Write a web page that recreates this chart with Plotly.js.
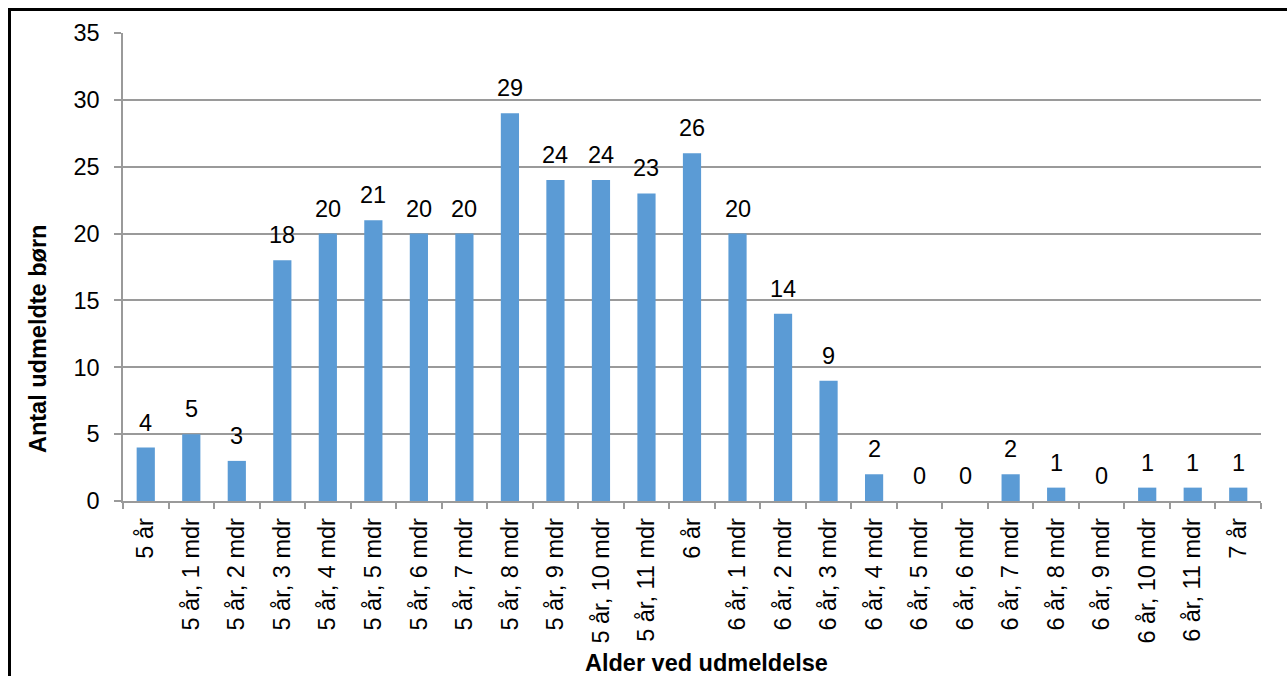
<!DOCTYPE html>
<html>
<head>
<meta charset="utf-8">
<script src="https://cdn.plot.ly/plotly-3.0.1.min.js"></script>
<style>
  html, body { margin: 0; padding: 0; overflow: hidden; background: #fff; }
  #wrap { position: relative; width: 1287px; height: 676px; }
  #chart { position: absolute; left: 0; top: 0; width: 1287px; height: 676px; }
  #frame { position: absolute; left: 8px; top: 8px; width: 1400px; height: 800px;
           border-left: 3px solid #000; border-top: 3px solid #000; pointer-events: none; }
</style>
</head>
<body>
<div id="wrap"><div id="chart"></div><div id="frame"></div></div>
<script>
const categories = [
  "5 år", "5 år, 1 mdr", "5 år, 2 mdr", "5 år, 3 mdr", "5 år, 4 mdr", "5 år, 5 mdr",
  "5 år, 6 mdr", "5 år, 7 mdr", "5 år, 8 mdr", "5 år, 9 mdr", "5 år, 10 mdr", "5 år, 11 mdr",
  "6 år", "6 år, 1 mdr", "6 år, 2 mdr", "6 år, 3 mdr", "6 år, 4 mdr", "6 år, 5 mdr",
  "6 år, 6 mdr", "6 år, 7 mdr", "6 år, 8 mdr", "6 år, 9 mdr", "6 år, 10 mdr", "6 år, 11 mdr",
  "7 år"
];
const values = [4, 5, 3, 18, 20, 21, 20, 20, 29, 24, 24, 23, 26, 20, 14, 9, 2, 0, 0, 2, 1, 0, 1, 1, 1];
const yTickValues = [0, 5, 10, 15, 20, 25, 30, 35];
const xTitle = "Alder ved udmeldelse";
const yTitle = "Antal udmeldte børn";

const FONT = "Liberation Sans, Arial, sans-serif";
const GRID = "#9a9a9a";
const FS = 23.5;

const trace = {
  type: "bar",
  x: categories,
  y: values,
  marker: { color: "#5b9bd5", line: { width: 0 } },
  hoverinfo: "x+y"
};

const labelAnnotations = categories.map((c, i) => ({
  x: c, y: values[i], xref: "x", yref: "y",
  text: String(values[i]), showarrow: false,
  xanchor: "center", yanchor: "bottom", yshift: 10,
  font: { family: FONT, size: FS, color: "#000" }
}));

const layout = {
  width: 1287, height: 676,
  margin: { l: 123, r: 26, t: 33, b: 175 },
  paper_bgcolor: "#fff", plot_bgcolor: "#fff",
  bargap: 0.6,
  showlegend: false,
  font: { family: FONT, size: FS, color: "#000" },
  xaxis: {
    type: "category",
    tickangle: -90,
    ticks: "outside", ticklen: 6, tickcolor: GRID, tickwidth: 1.5,
    tickson: "boundaries",
    showline: true, linecolor: GRID, linewidth: 1.5,
    showgrid: false,
    ticklabelstandoff: 6,
    tickfont: { family: FONT, size: FS, color: "#000" }
  },
  yaxis: {
    range: [0, 35],
    tickvals: yTickValues,
    ticks: "outside", ticklen: 7, tickcolor: GRID, tickwidth: 1.5,
    showline: true, linecolor: GRID, linewidth: 1.5,
    showgrid: true, gridcolor: GRID, gridwidth: 1.5,
    zeroline: false,
    ticklabelstandoff: 10,
    tickfont: { family: FONT, size: FS, color: "#000" }
  },
  annotations: labelAnnotations.concat([
    {
      text: "<b>" + xTitle + "</b>", xref: "paper", yref: "paper",
      x: 0.513, y: -0.346, xanchor: "center", yanchor: "middle",
      showarrow: false, font: { family: FONT, size: FS, color: "#000" }
    },
    {
      text: "<b>" + yTitle + "</b>", xref: "paper", yref: "paper",
      x: -0.0747, y: 0.346, xanchor: "center", yanchor: "middle",
      textangle: -90,
      showarrow: false, font: { family: FONT, size: FS, color: "#000" }
    }
  ])
};

Plotly.newPlot("chart", [trace], layout, { displayModeBar: false });
</script>
</body>
</html>
